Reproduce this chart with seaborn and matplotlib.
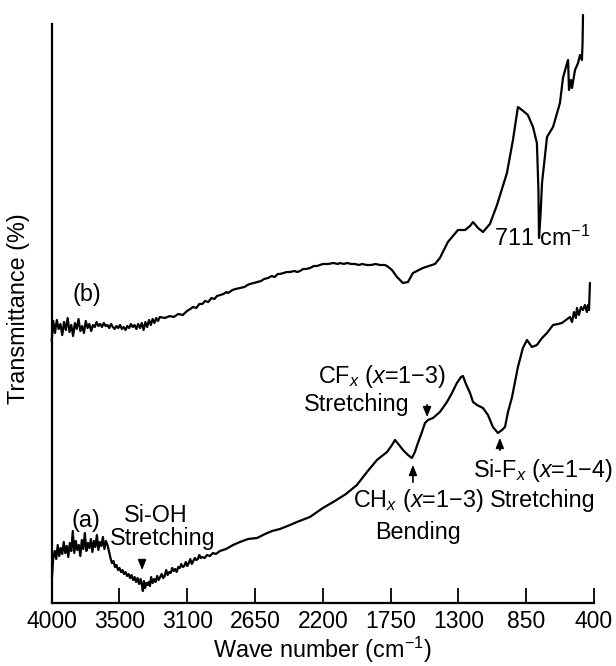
import numpy as np
import pandas as pd
import matplotlib
matplotlib.use("Agg")
import matplotlib.pyplot as plt
import seaborn as sns

# ---- data (wave number cm^-1, transmittance in arbitrary units) ----
wn_b = [4000, 3990, 3978, 3966, 3954, 3942, 3930, 3918, 3906, 3894, 3882, 3870, 3858, 3846, 3834,
        3822, 3810, 3798, 3786, 3774, 3762, 3750, 3738, 3726, 3714, 3702, 3690, 3678, 3666, 3654,
        3642, 3630, 3618, 3606, 3594, 3582, 3570, 3558, 3546, 3534, 3522, 3510, 3498, 3486, 3474,
        3462, 3450, 3438, 3426, 3414, 3402, 3390, 3378, 3366, 3354, 3342, 3330, 3318, 3306, 3294,
        3282, 3250, 3215, 3190, 3160, 3130, 3102, 3080, 3062, 3040, 3020, 3000, 2982, 2960, 2940,
        2920, 2903, 2880, 2860, 2840, 2829, 2800, 2780, 2750, 2720, 2700, 2684, 2660, 2637, 2610,
        2590, 2564, 2540, 2520, 2500, 2485, 2460, 2440, 2418, 2390, 2370, 2352, 2330, 2310, 2285,
        2260, 2239, 2200, 2166, 2130, 2100, 2087, 2060, 2040, 2010, 1987, 1960, 1940, 1907, 1880,
        1850, 1821, 1790, 1774, 1741, 1708, 1668, 1635, 1602, 1536, 1456, 1423, 1370, 1303, 1256,
        1223, 1203, 1170, 1137, 1091, 1044, 978, 938, 905, 878, 839, 805, 779, 769, 765, 755, 745,
        712, 672, 626, 606, 579, 572, 566, 553, 546, 526, 506, 493, 480, 476, 473]
t_b = [262, 282, 270, 283, 274, 279, 268, 281, 273, 285, 271, 278, 267, 280, 274,
       284, 272, 277, 270, 282, 275, 279, 272, 278, 276, 281, 277, 279, 276, 280,
       277, 278, 275, 279, 276, 274, 277, 275, 278, 274, 276, 273, 277, 275, 279,
       276, 278, 274, 279, 275, 280, 273, 281, 276, 283, 278, 284, 280, 285, 282,
       286, 285, 287, 286, 289, 288, 292, 294, 296, 295, 299, 299, 302, 301, 305,
       304, 307, 308, 309, 311, 310, 313, 314, 315, 316, 318, 319, 320, 321, 322,
       324, 325, 327, 326, 329, 329, 330, 331, 331, 332, 331, 332, 334, 334, 335,
       337, 337, 339, 339, 340, 339, 340, 339, 340, 339, 339, 338, 339, 338, 338,
       339, 338, 338, 337, 333, 326, 320, 321, 330, 335, 339, 345, 361, 373, 373,
       377, 381, 375, 371, 379, 398, 430, 463, 496, 493, 488, 476, 460, 413, 365, 388, 420,
       466, 476, 500, 525, 540, 543, 513, 523, 515, 533, 540, 548, 543, 560, 588]

wn_a = [3998, 3990, 3980, 3970, 3960, 3950, 3940, 3930, 3920, 3910, 3900, 3890, 3880, 3870, 3860,
        3850, 3840, 3830, 3820, 3810, 3800, 3790, 3780, 3770, 3760, 3750, 3740, 3730, 3720, 3710,
        3700, 3690, 3680, 3670, 3660, 3650, 3640, 3630, 3620, 3610, 3600, 3590, 3580, 3570, 3560,
        3550, 3540, 3530, 3520, 3510, 3500, 3490, 3480, 3470, 3460, 3450, 3440, 3430, 3420, 3410,
        3400, 3395, 3388, 3380, 3372, 3364, 3356, 3348, 3340, 3330, 3320, 3310, 3300, 3290, 3280,
        3270, 3260, 3250, 3240, 3230, 3220, 3210, 3200, 3190, 3180, 3170, 3160, 3150, 3140, 3130,
        3120, 3110, 3100, 3090, 3080, 3070, 3060, 3050, 3040, 3030, 3020, 3010, 3000, 2985, 2969,
        2950, 2929, 2910, 2883, 2843, 2796, 2750, 2697, 2637, 2584, 2537, 2485, 2418, 2372, 2286,
        2200, 2120, 2047, 1974, 1907, 1841, 1774, 1741, 1721, 1694, 1668, 1635, 1609, 1589, 1569,
        1542, 1522, 1502, 1469, 1423, 1376, 1343, 1310, 1283, 1270, 1250, 1223, 1203, 1177, 1137,
        1104, 1071, 1038, 1011, 991, 971, 944, 905, 872, 845, 812, 779, 745, 712, 672, 639, 613,
        586, 560, 546, 533, 520, 513, 500, 486, 473, 460, 447, 440, 433, 427]
t_a = [26, 45, 52, 44, 58, 47, 55, 49, 61, 50, 57, 46, 60, 52, 72,
       50, 62, 53, 58, 47, 63, 54, 70, 52, 60, 55, 64, 51, 62, 56,
       68, 53, 61, 57, 66, 54, 62, 58, 52, 45, 40, 42, 36, 38, 33,
       35, 31, 33, 29, 31, 27, 29, 25, 28, 23, 26, 21, 25, 19, 24,
       17, 12, 22, 15, 20, 18, 21, 17, 26, 20, 24, 21, 27, 23, 26,
       29, 25, 27, 33, 28, 31, 30, 35, 32, 34, 31, 36, 35, 39, 36,
       37, 41, 37, 40, 44, 39, 42, 45, 43, 44, 48, 45, 46, 45, 48,
       47, 50, 49, 52, 54, 58, 61, 64, 65, 69, 72, 74, 78, 81, 86,
       95, 102, 109, 118, 131, 143, 151, 158, 163, 158, 153, 148, 145, 151, 160,
       171, 180, 183, 185, 191, 201, 210, 220, 226, 227, 219, 210, 201, 198, 195,
       188, 176, 170, 173, 176, 191, 206, 236, 255, 263, 256, 258, 265, 270, 278, 279, 280,
       283, 286, 281, 291, 285, 295, 288, 296, 293, 298, 291, 298, 293, 320]

tick_pos = [4000, 3550, 3100, 2650, 2200, 1750, 1300, 850, 400]
tick_labels = ["4000", "3500", "3100", "2650", "2200", "1750", "1300", "850", "400"]

df_b = pd.DataFrame({"wn": wn_b, "T": t_b})
df_a = pd.DataFrame({"wn": wn_a, "T": t_a})

sns.set_theme(style="ticks")
plt.rcParams["font.family"] = ["Liberation Sans", "DejaVu Sans"]
plt.rcParams["mathtext.fontset"] = "custom"
plt.rcParams["mathtext.rm"] = "Liberation Sans"
plt.rcParams["mathtext.it"] = "Liberation Sans:italic"
plt.rcParams["text.color"] = "black"
plt.rcParams["axes.labelcolor"] = "black"

fig = plt.figure(figsize=(6.16, 6.66), dpi=100)
ax = fig.add_axes([51.7 / 616, 63 / 666, 542.3 / 616, 589 / 666])

line_kw = dict(color="black", linewidth=1.6, sort=False, estimator=None, legend=False)
sns.lineplot(data=df_b, x="wn", y="T", ax=ax, **line_kw)
sns.lineplot(data=df_a, x="wn", y="T", ax=ax, **line_kw)
for l in ax.lines:
    l.set_clip_on(False)

ax.set_xlim(4000, 400)
ax.set_ylim(0, 589)
ax.set_xticks(tick_pos)
ax.set_xticklabels(tick_labels)
ax.set_yticks([])
ax.tick_params(axis="x", direction="in", length=11, width=1.3, pad=5, labelsize=16.5, colors="black")
for s in ["top", "right"]:
    ax.spines[s].set_visible(False)
for s in ["left", "bottom"]:
    ax.spines[s].set_linewidth(1.6)
    ax.spines[s].set_color("black")
ax.spines["left"].set_bounds(0, 579)

ax.set_xlabel("Wave number (cm$^{-1}$)", fontsize=16.8, labelpad=1)
ax.set_ylabel("Transmittance (%)", fontsize=16.8)
ax.yaxis.set_label_coords(-0.040, 0.5)

fs = 16.8
ax.text(3766, 308, "(b)", fontsize=fs, ha="center", va="center")
ax.text(745, 365, "711 cm$^{-1}$", fontsize=fs, ha="center", va="center")
ax.text(3772, 83, "(a)", fontsize=fs, ha="center", va="center")
ax.text(3308, 87, "Si-OH", fontsize=fs, ha="center", va="center")
ax.text(3261, 65, "Stretching", fontsize=fs, ha="center", va="center")
ax.text(1808, 226, "CF$_{x}$ ($x$=1−3)", fontsize=fs, ha="center", va="center")
ax.text(1973, 199, "Stretching", fontsize=fs, ha="center", va="center")
ax.text(1568, 103, "CH$_{x}$ ($x$=1−3)", fontsize=fs, ha="center", va="center")
ax.text(1568, 71, "Bending", fontsize=fs, ha="center", va="center")
ax.text(741, 132, "Si-F$_{x}$ ($x$=1−4)", fontsize=fs, ha="center", va="center")
ax.text(741, 103, "Stretching", fontsize=fs, ha="center", va="center")

arrow = dict(arrowstyle="-|>,head_length=0.5,head_width=0.2", color="black", lw=1.2)
ax.annotate("", xy=(3400, 30), xytext=(3400, 43), arrowprops=arrow)
ax.annotate("", xy=(1508, 183), xytext=(1508, 201), arrowprops=arrow)
ax.annotate("", xy=(1602, 141), xytext=(1602, 118), arrowprops=arrow)
ax.annotate("", xy=(1025, 168), xytext=(1025, 150), arrowprops=arrow)

fig.savefig("out.png", dpi=100)
